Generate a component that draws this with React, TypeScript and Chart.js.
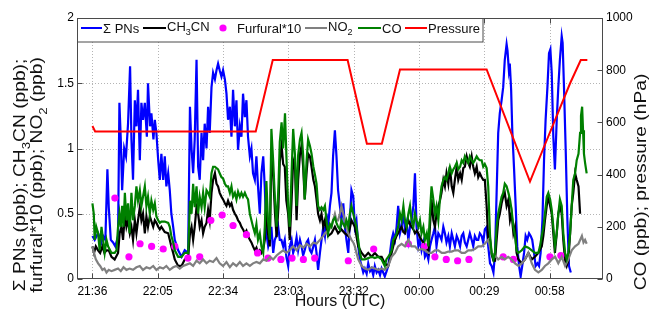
import React, { useEffect, useRef } from "react";
import { Chart, registerables } from "chart.js";
Chart.register(...registerables);

const FONT = '"Liberation Sans", Arial, Helvetica, sans-serif';
const W = 649;
const H = 311;

// x axis: minutes after 21:36 UTC
const X_MIN = -6.8;
const X_MAX = 225.1;
const X_TICKS = [0, 28.8, 57.6, 86.4, 115.2, 144, 172.8, 201.6];
const X_TICK_LABELS = ["21:36", "22:05", "22:34", "23:03", "23:32", "00:00", "00:29", "00:58"];
const Y_GRID = [0.5, 1, 1.5];

// Σ PNs (ppb)
const pnsT = [
  0,1,2.5,4,4.7,5.7,6.6,7.2,8.1,9.1,
  10.1,11.3,11.9,12.5,13.1,14,14.8,15.7,16.6,17.2,
  17.9,18.7,19.4,20.1,20.9,21.6,22.3,23.1,24,24.5,
  25.4,26,26.9,27.5,28.2,29,29.7,30.4,31.2,31.9,
  32.6,33.4,34.1,34.8,35.6,36.3,37.8,39.3,40.7,42.2,
  43,43.7,44.4,45.1,45.9,46.6,47.3,48.1,48.8,49.5,
  50.3,51,51.7,52.5,53.2,54,54.7,55.4,56.1,56.9,
  57.6,58.4,59.1,59.8,60.6,61.3,62,62.8,63.5,64.2,
  65,65.7,66.4,67.2,67.9,68.6,69.4,70.1,70.8,71.6,
  72.3,73,73.8,74.5,75.3,76,76.7,77.5,78.2,78.9,
  79.7,80.4,81.1,81.9,82.6,83.3,84.1,84.8,
  85.5,86.3,87,87.8,88.5,89.3,90,90.7,91.5,92.2,
  92.9,93.6,94.4,95.1,95.9,96.6,97.4,98.1,98.8,99.5,
  100.3,101,101.8,102.5,103.2,103.9,104.7,105.4,106.1,106.9,
  107.6,108.3,109.1,109.8,110.6,111.3,112,112.8,113.5,114.2,
  115,115.7,116.4,117.2,117.9,118.7,119.4,120.1,120.9,121.6,
  122.4,123.1,123.8,124.5,125.3,126,126.8,127.5,128.2,128.9,
  129.7,130.4,
  131.2,131.9,132.6,133.4,134.1,134.8,135.6,136.3,137.1,137.8,
  138.5,139.3,140,140.7,141.5,142.2,142.9,143.7,144.4,145.1,
  145.9,146.6,147.4,148.1,148.8,149.5,150.3,151,151.7,152.5,
  153.2,153.9,154.7,155.4,156.1,156.9,157.6,158.4,159.1,159.8,
  160.6,161.3,162.1,162.8,163.5,164.2,165,165.7,166.4,167.2,
  167.9,168.6,169.4,170.1,170.8,171.6,172.3,173,173.8,
  174.5,175.3,176,176.8,177.5,178.2,178.9,179.6,180.4,181.1,
  181.8,182.6,183,183.6,184,184.6,185.1,185.9,186.6,187.3,
  188.1,188.8,189.5,190.3,191,191.7,192.5,193.2,193.9,194.7,
  195.4,196.2,196.9,197.6,198.4,199.1,199.8,200.6,201.3,201.9,
  202.5,203.2,203.9,204.7,205.4,206.1,206.9,207.3,207.9,208.7,
  209.4,210.1,210.9,
];
const pnsV = [
  0.33,0.3,0.35,0.28,0.33,0.3,0.84,0.55,0.3,0.28,
  0.25,0.33,1.35,1.07,0.68,1.0,0.94,1.19,1.63,1.07,
  0.76,1.37,1.17,1.45,0.91,1.35,1.22,1.35,1.09,1.5,
  1.17,1.27,1.07,1.22,1.12,0.91,0.76,0.96,0.76,0.94,
  0.71,0.81,0.68,0.5,0.4,0.3,0.22,0.17,0.22,0.2,
  1.32,1.0,0.81,1.07,1.68,0.86,0.76,1.12,0.91,1.19,
  1.0,1.32,1.12,1.47,1.58,1.53,1.6,1.65,1.6,1.55,
  1.6,1.53,1.42,1.22,1.32,1.09,1.45,1.17,1.37,0.99,
  1.17,1.09,1.42,1.24,1.37,1.09,0.94,1.0,0.81,0.76,
  0.94,0.71,0.5,0.81,0.94,0.7,0.35,0.25,0.3,0.4,
  0.2,0.3,0.33,0.4,0.3,0.3,0.25,0.3,
  0.17,0.1,0.25,0.3,0.2,0.25,0.32,0.22,0.3,0.25,
  0.18,0.22,0.28,0.3,0.22,0.2,0.25,0.3,0.2,0.07,
  0.2,0.3,0.4,0.33,0.5,0.4,0.56,0.66,0.94,1.14,
  0.94,0.68,0.56,0.45,0.58,0.4,0.3,0.2,0.45,0.68,
  0.63,0.4,0.45,0.25,0.15,0.1,0.05,0.08,0.04,0.12,
  0.06,0.08,0.03,0.1,0.05,0.07,0.03,0.08,0.05,0.02,
  0.06,0.1,
  0.2,0.3,0.35,0.3,0.4,0.56,0.35,0.4,0.5,0.38,
  0.43,0.3,0.4,0.45,0.56,0.81,0.4,0.25,0.3,0.22,
  0.28,0.17,0.2,0.15,0.25,0.3,0.35,0.4,0.25,0.35,
  0.33,0.3,0.4,0.35,0.28,0.33,0.25,0.35,0.3,0.25,
  0.33,0.3,0.25,0.33,0.35,0.28,0.25,0.3,0.35,0.3,
  0.25,0.33,0.3,0.3,0.35,0.33,0.28,0.38,0.4,
  0.25,0.12,0.1,0.05,0.2,0.66,1.12,1.27,1.37,1.47,
  1.68,1.8,1.75,1.6,1.65,1.45,1.14,0.84,0.56,0.25,
  0.1,0.02,0.1,0.2,0.33,0.3,0.35,0.33,0.3,0.2,
  0.1,0.12,0.1,0.2,0.45,0.91,1.22,1.47,1.73,1.76,
  1.58,1.09,0.84,1.22,1.47,1.68,1.86,1.81,1.47,0.96,
  0.45,0.1,0.05,
];

// CH3CN (ppb)
const ch3cnT = [
  0,0.7,1.5,2.5,3.4,4.4,5.3,6.2,7.2,8.4,
  9.8,11.3,12,12.8,13.5,14.3,15,15.7,16.5,17.2,
  17.9,18.7,19.4,20.1,20.9,21.6,22.3,23.1,23.8,24.5,
  25.3,26.8,27.5,28.2,29,29.7,30.4,31.9,33.4,34.1,
  34.8,35.6,36.3,37.8,39.3,40.7,42.2,
  43,43.7,44.4,45.1,45.9,46.6,47.3,48.1,48.8,49.5,
  50.3,51,51.7,52.5,53.2,54,54.7,55.4,56.1,56.9,
  57.6,58.4,59.1,59.8,60.6,61.3,62,62.8,63.5,64.2,
  65,65.7,66.4,67.2,67.9,68.6,69.4,70.1,70.8,71.6,
  72.3,73,73.8,74.5,75.3,76,76.7,77.4,78.2,78.9,
  79.7,80.5,81.2,82,82.6,83.4,84.1,84.8,
  85.5,86.3,87,87.8,88.5,89.3,90,90.7,91.5,92.2,
  92.9,93.6,94.4,95.1,95.9,96.6,97.4,98.1,98.8,99.5,
  100.3,101,101.8,102.5,103.9,105.4,106.9,108.3,109.8,111.3,
  112.8,114.2,115.7,117.2,118.7,120.1,121.6,123.1,124.5,126,
  127.5,128.9,130.4,
  131.2,131.9,132.6,133.4,134.1,134.8,135.6,136.3,137.1,137.8,
  138.5,139.3,140,140.7,141.5,142.2,143,143.7,144.4,145.1,
  145.9,146.6,147.4,148.1,148.8,149.5,150.3,151,151.7,152.5,
  153.2,153.9,154.7,155.4,156.1,156.9,157.6,158.4,159.1,159.8,
  160.6,161.3,162.1,162.8,163.5,164.2,165,165.7,166.4,167.2,
  167.9,168.6,169.4,170.1,170.8,171.6,172.3,173,173.8,174.5,
  175.3,176,176.8,177.5,178.2,178.9,179.6,180.4,181.1,181.8,
  182.6,183.4,184.1,184.8,185.6,186.3,187,187.8,189.3,190.7,
  192.2,193.7,195.1,196.6,198.1,198.8,199.5,200.3,201,201.8,
  202.5,203.2,203.9,204.7,205.4,206.1,206.9,207.6,208.4,209.1,
  209.8,210.6,211.3,212,212.8,213.5,214.3,215,
];
const ch3cnV = [
  0.25,0.2,0.25,0.22,0.2,0.25,0.2,0.22,0.22,0.17,
  0.15,0.2,0.35,0.4,0.3,0.5,0.4,0.45,0.35,0.4,
  0.3,0.45,0.35,0.45,0.55,0.45,0.5,0.35,0.48,0.4,
  0.48,0.4,0.45,0.43,0.4,0.38,0.4,0.36,0.35,0.3,
  0.25,0.2,0.15,0.1,0.1,0.15,0.17,
  0.35,0.4,0.3,0.4,0.55,0.5,0.4,0.45,0.35,0.4,
  0.43,0.53,0.45,0.66,0.76,0.81,0.73,0.71,0.66,0.63,
  0.61,0.58,0.56,0.6,0.56,0.58,0.53,0.5,0.48,0.45,
  0.43,0.4,0.38,0.35,0.37,0.33,0.3,0.28,0.25,0.22,
  0.24,0.2,0.22,0.2,0.23,0.3,0.6,0.35,0.25,0.95,
  0.8,0.5,0.32,0.55,0.9,1.02,0.88,0.86,
  0.6,0.5,0.3,0.6,0.91,0.86,0.45,0.76,0.96,1.02,
  0.86,0.61,0.81,0.96,0.94,0.86,0.76,0.71,0.61,0.5,
  0.45,0.5,0.4,0.45,0.33,0.35,0.4,0.35,0.38,0.35,
  0.33,0.45,0.4,0.25,0.2,0.17,0.2,0.17,0.2,0.17,
  0.17,0.12,0.1,
  0.15,0.2,0.25,0.3,0.33,0.35,0.38,0.4,0.36,0.35,
  0.4,0.45,0.42,0.4,0.38,0.35,0.37,0.35,0.32,0.3,
  0.28,0.25,0.22,0.2,0.4,0.61,0.45,0.4,0.5,0.56,
  0.6,0.66,0.76,0.71,0.81,0.73,0.86,0.71,0.66,0.76,
  0.86,0.76,0.81,0.76,0.85,0.86,0.94,0.89,0.86,0.94,
  0.86,0.81,0.86,0.78,0.81,0.78,0.76,0.76,0.56,0.3,
  0.3,0.19,0.14,0.14,0.3,0.45,0.5,0.58,0.63,0.66,
  0.56,0.61,0.45,0.5,0.35,0.4,0.2,0.15,0.12,0.15,
  0.2,0.15,0.17,0.2,0.25,0.33,0.45,0.56,0.63,0.56,
  0.5,0.35,0.2,0.35,0.5,0.56,0.5,0.3,0.14,0.1,
  0.14,0.35,0.56,0.66,0.81,0.76,0.71,0.5,
];

// Furfural*10 (ppb)
const furfT = [
  9.9,16.1,21,26.1,31.2,36.3,42.1,47.3,52.2,57.2,
  62,67.9,72.8,77.4,83.1,88,93,98,112.8,124,
  139.3,146.3,151,156,161,166,181.1,185.6,201.7,206.5,
];
const furfV = [
  0.62,0.17,0.27,0.25,0.23,0.25,0.16,0.17,0.45,0.49,
  0.41,0.34,0.2,0.16,0.15,0.16,0.15,0.16,0.14,0.23,
  0.27,0.25,0.17,0.15,0.14,0.15,0.17,0.15,0.17,0.18,
];

// NO2 (ppb)
const no2T = [
  0,0.7,1.5,2.5,3.4,4.4,5.3,6.2,7.2,8.4,
  9.8,11.3,12.5,13.7,15,16.4,17.9,19.4,20.9,22.3,
  23.8,25.3,26.8,28.2,29.7,31.2,32.6,34.1,35.6,37,
  38.5,40,41.5,
  43,44.4,45.9,47.3,48.8,50.3,51.7,53.2,54.7,56.1,
  57.6,59.1,60.6,62,63.5,65,66.4,67.9,69.4,70.8,
  72.3,73.8,75.3,76.7,78.2,79.7,81.2,82.6,84.1,85.5,
  87,88.5,90,91.5,93,94.4,95.9,97.4,98.8,100.3,
  101.8,102.5,103.9,105.4,106.1,106.9,107.6,108.3,109.1,109.8,
  110.6,111.3,112,112.8,114.2,115,115.7,116.4,117.2,118.7,
  120.1,121.6,123.1,124.5,126,127.5,128.9,130.4,
  131.9,133.4,134.8,136.3,137.8,139.3,140.7,142.2,143.7,145.1,
  146.6,148.1,149.5,151,152.5,154,155.4,156.9,158.4,159.8,
  161.3,162.8,164.2,165.7,167.2,168.6,170.1,171.6,173,174.5,
  176,177.5,178.9,180.4,181.8,183.3,184.8,186.3,187.8,189.3,
  190.7,192.2,193.7,195.1,196.6,198.1,199.5,201,202.5,204,
  205.4,206.9,208.4,209.8,211.3,212.8,214.3,215.8,216.5,217.2,
  217.9,
];
const no2V = [
  0.25,0.2,0.15,0.12,0.1,0.07,0.08,0.05,0.07,0.06,
  0.07,0.08,0.06,0.09,0.07,0.08,0.07,0.09,0.1,0.07,
  0.09,0.08,0.1,0.07,0.09,0.08,0.1,0.07,0.09,0.1,
  0.08,0.1,0.11,
  0.12,0.1,0.14,0.12,0.15,0.12,0.14,0.13,0.16,0.12,
  0.1,0.13,0.09,0.12,0.1,0.13,0.1,0.12,0.1,0.12,
  0.13,0.12,0.15,0.14,0.17,0.15,0.18,0.2,0.22,0.2,
  0.22,0.25,0.22,0.26,0.24,0.27,0.25,0.28,0.27,0.3,
  0.33,0.35,0.37,0.4,0.45,0.5,0.45,0.45,0.5,0.56,
  0.5,0.45,0.4,0.35,0.3,0.28,0.25,0.2,0.15,0.1,
  0.08,0.07,0.09,0.08,0.07,0.08,0.07,0.1,
  0.17,0.2,0.25,0.27,0.25,0.3,0.25,0.25,0.22,0.23,
  0.22,0.2,0.2,0.22,0.22,0.2,0.2,0.21,0.21,0.22,
  0.22,0.2,0.2,0.22,0.22,0.23,0.25,0.25,0.27,0.3,
  0.2,0.18,0.15,0.17,0.15,0.17,0.15,0.12,0.1,0.12,
  0.15,0.2,0.12,0.07,0.05,0.07,0.1,0.12,0.15,0.17,
  0.12,0.17,0.1,0.15,0.22,0.25,0.27,0.33,0.28,0.3,
  0.27,
];

// CO (ppb), right axis
const coT = [
  0,0.6,1,1.7,2.5,3.2,4,4.7,5.4,6.2,
  6.9,8.4,9.8,10.6,11.3,11.9,12.5,13.1,13.7,14.3,
  15,15.7,16.4,17.2,17.9,18.7,19.4,20.1,20.9,21.6,
  22.3,23.1,23.8,24.5,25.3,26,26.8,27.5,28.2,29,
  29.7,30.4,31.9,33.4,34.1,34.8,35.6,36.3,37.8,39.3,
  40.7,42.2,
  43,43.7,44.4,45.1,45.9,46.6,47.3,48.1,48.8,49.5,
  50.3,51,51.7,52.5,53.2,54,54.7,55.4,56.1,56.9,
  57.6,58.4,59.1,59.8,60.6,61.3,62,62.8,63.5,64.2,
  65,65.7,66.4,67.2,67.9,68.6,69.4,
  70.1,70.8,71.6,72.3,73,73.8,74.5,75.3,76,76.7,
  77.4,78.2,78.9,79.7,80.5,81.2,82,82.6,83.4,84.1,
  84.9,85.6,86.3,87,87.8,88.5,89.3,90,90.7,91.5,
  92.2,92.9,93.6,94.4,95.1,95.9,96.6,97.4,98.1,98.8,
  99.5,100.3,101,101.8,102.5,103.2,103.9,104.7,105.4,106.1,
  106.9,107.6,108.3,109.1,109.8,110.6,111.3,112,112.8,113.5,
  114.2,115,115.7,116.4,117.2,117.9,118.7,120.1,121.6,123.1,
  124.5,126,127.5,128.9,129.6,130.4,
  131.2,131.9,132.6,133.4,134.1,134.8,135.6,136.3,137.1,137.8,
  138.5,139.3,140,140.7,141.5,142.2,142.9,143.7,144.4,145.1,
  145.9,146.6,147.4,148.1,148.8,149.5,150.3,151,151.7,152.5,
  153.2,153.9,154.7,155.4,156.1,156.9,157.6,158.4,159.1,159.8,
  160.6,161.3,162.1,162.8,163.5,164.2,165,165.7,166.4,167.2,
  167.9,168.6,169.4,170.1,170.8,171.6,172.3,173,173.8,174.5,
  175.3,
  176,176.8,177.5,178.2,178.9,179.6,180.4,181.1,181.8,182.6,
  183.4,184.1,184.8,185.6,186.3,187,187.8,189.3,190.7,192.2,
  193.7,195.1,196.6,197.3,198.1,198.8,199.5,200.3,201,201.8,
  202.5,203.2,203.9,204.7,205.4,206.1,206.9,207.6,208.4,209.1,
  209.8,210.6,211.3,212,212.8,213.5,214.3,215,215.4,215.9,
  216.3,216.7,217.2,217.9,
];
const coV = [
  290,250,150,200,175,110,200,150,100,150,
  125,100,100,110,200,250,200,280,200,330,
  225,290,175,330,225,280,355,300,340,280,
  315,355,280,315,250,300,265,290,240,225,
  215,220,220,215,200,165,140,110,85,85,
  100,100,
  300,250,365,275,355,250,315,275,330,275,
  340,330,315,405,430,430,425,420,405,390,
  385,365,355,355,330,355,315,330,305,335,
  315,330,315,330,315,305,250,
  225,200,175,210,150,175,125,100,200,375,
  225,150,575,450,300,200,350,525,600,500,
  635,450,275,200,405,575,475,280,475,535,
  560,475,305,450,535,510,480,430,400,365,
  280,265,275,265,280,225,175,210,200,225,
  235,215,200,190,225,210,200,225,200,250,
  280,250,225,200,150,100,75,75,80,85,
  80,85,75,50,75,85,
  95,110,150,160,175,200,250,225,280,225,
  200,250,280,225,200,250,225,200,225,175,
  200,150,175,125,250,355,305,250,280,225,
  305,355,380,390,380,405,430,405,420,430,
  445,420,430,455,445,470,455,445,470,455,
  445,455,470,460,455,455,430,440,425,355,
  165,
  100,75,100,200,250,280,315,330,365,355,
  330,305,265,200,165,110,100,110,125,120,
  110,100,100,125,165,200,250,315,330,305,
  265,200,125,175,250,305,280,175,100,75,
  100,175,280,380,405,455,480,560,625,660,
  570,480,445,405,
];

// Pressure (hPa), right axis
const presT = [0, 1.2, 72, 79.5, 112.5, 121, 127.6, 135.6, 173.8, 192.9, 198.8, 210.6, 215.3, 218.2];
const presV = [586, 565, 565, 839, 839, 518, 518, 803, 803, 373, 500, 750, 839, 839];

type Seg = [string, boolean];
const LEFT_TITLE_1: Seg[] = [["\u03A3 PNs (ppb); CH", false], ["3", true], ["CN (ppb);", false]];
const LEFT_TITLE_2: Seg[] = [["furfural*10 (ppb); NO", false], ["2", true], [" (ppb)", false]];
const RIGHT_TITLE: Seg[] = [["CO (ppb); pressure (hPa)", false]];
const X_TITLE = "Hours (UTC)";

const LEGEND = [
  { kind: "line", color: "#0000ff", x0: 81, x1: 102, tx: 103, segs: [["\u03A3 PNs", false]] as Seg[] },
  { kind: "line", color: "#000000", x0: 143, x1: 166, tx: 167, segs: [["CH", false], ["3", true], ["CN", false]] as Seg[] },
  { kind: "dot", color: "#ff00ff", x0: 223, x1: 223, tx: 237, segs: [["Furfural*10", false]] as Seg[] },
  { kind: "line", color: "#808080", x0: 305, x1: 327, tx: 328, segs: [["NO", false], ["2", true]] as Seg[] },
  { kind: "line", color: "#008000", x0: 358, x1: 381, tx: 382, segs: [["CO", false]] as Seg[] },
  { kind: "line", color: "#ff0000", x0: 405, x1: 427, tx: 428, segs: [["Pressure", false]] as Seg[] },
];

function pts(t: number[], v: number[]) {
  return t.map((x, i) => ({ x, y: v[i] }));
}

function richWidth(ctx: CanvasRenderingContext2D, segs: Seg[], size: number, sub: number) {
  let w = 0;
  for (const [s, isSub] of segs) {
    ctx.font = `${isSub ? sub : size}px ${FONT}`;
    w += ctx.measureText(s).width;
  }
  return w;
}

function drawRich(ctx: CanvasRenderingContext2D, segs: Seg[], x: number, y: number, size: number, center: boolean) {
  const sub = Math.round(size * 0.7);
  const hasSub = segs.some((s) => s[1]);
  const w = richWidth(ctx, segs, size, sub);
  let cx = center ? x - w / 2 : x;
  const base = hasSub ? y - 2 : y;
  ctx.textAlign = "left";
  ctx.textBaseline = "alphabetic";
  for (const [s, isSub] of segs) {
    ctx.font = `${isSub ? sub : size}px ${FONT}`;
    ctx.fillText(s, cx, isSub ? base + size * 0.33 : base);
    cx += ctx.measureText(s).width;
  }
}

// rotated axis title, stretched along its length as in the source figure
function drawVertical(ctx: CanvasRenderingContext2D, segs: Seg[], x: number, y: number, size: number, stretch: number) {
  ctx.save();
  ctx.translate(x, y);
  ctx.rotate(-Math.PI / 2);
  ctx.scale(stretch, 1);
  drawRich(ctx, segs, 0, 0, size, true);
  ctx.restore();
}

const decor = {
  id: "decor",
  beforeDatasetsDraw(chart: any) {
    const { ctx, chartArea: a, scales } = chart;
    ctx.save();
    ctx.strokeStyle = "#b4b4b4";
    ctx.lineWidth = 1;
    ctx.setLineDash([1, 2]);
    ctx.beginPath();
    for (const v of X_TICKS) {
      const px = Math.round(scales.x.getPixelForValue(v)) + 0.5;
      ctx.moveTo(px, a.top);
      ctx.lineTo(px, a.bottom);
    }
    for (const v of Y_GRID) {
      const py = Math.round(scales.y.getPixelForValue(v)) + 0.5;
      ctx.moveTo(a.left, py);
      ctx.lineTo(a.right, py);
    }
    ctx.stroke();
    ctx.restore();
  },
  afterDraw(chart: any) {
    const { ctx, chartArea: a, scales } = chart;
    ctx.save();
    ctx.strokeStyle = "#4a4a4a";
    ctx.lineWidth = 1;
    ctx.setLineDash([]);
    const L = Math.round(a.left) + 0.5, R = Math.round(a.right) - 0.5;
    const T = Math.round(a.top) + 0.5, B = Math.round(a.bottom) - 0.5;
    ctx.strokeRect(L, T, R - L, B - T);
    ctx.beginPath();
    for (const t of scales.y.ticks) {
      const py = Math.round(scales.y.getPixelForValue(t.value)) + 0.5;
      ctx.moveTo(L, py); ctx.lineTo(L + 5, py);
    }
    for (const t of scales.y2.ticks) {
      const py = Math.round(scales.y2.getPixelForValue(t.value)) + 0.5;
      ctx.moveTo(R, py); ctx.lineTo(R - 5, py);
    }
    for (const v of X_TICKS) {
      const px = Math.round(scales.x.getPixelForValue(v)) + 0.5;
      ctx.moveTo(px, B); ctx.lineTo(px, B - 5);
      ctx.moveTo(px, T); ctx.lineTo(px, T + 5);
    }
    ctx.stroke();

    // legend
    ctx.fillStyle = "#ffffff";
    ctx.fillRect(L, T, 483 - L, 42 - T);
    ctx.strokeStyle = "#4a4a4a";
    ctx.strokeRect(L, T, 483 - L, 42 - T);
    for (const it of LEGEND) {
      if (it.kind === "line") {
        ctx.strokeStyle = it.color;
        ctx.lineWidth = 2;
        ctx.beginPath();
        ctx.moveTo(it.x0, 28);
        ctx.lineTo(it.x1, 28);
        ctx.stroke();
      } else {
        ctx.fillStyle = it.color;
        ctx.beginPath();
        ctx.arc(it.x0, 28, 3.6, 0, Math.PI * 2);
        ctx.fill();
      }
      ctx.fillStyle = "#111111";
      drawRich(ctx, it.segs, it.tx, 33, 13, false);
    }

    // axis titles
    ctx.fillStyle = "#111111";
    drawVertical(ctx, LEFT_TITLE_1, 27, 175, 16, 1.2);
    drawVertical(ctx, LEFT_TITLE_2, 43.5, 175, 16, 1.2);
    drawVertical(ctx, RIGHT_TITLE, 646, 182, 16, 1.2);
    ctx.font = `16px ${FONT}`;
    ctx.textAlign = "center";
    ctx.textBaseline = "alphabetic";
    ctx.fillText(X_TITLE, (a.left + a.right) / 2, 306);
    ctx.restore();
  },
};

export default function App() {
  const ref = useRef<HTMLCanvasElement>(null);
  useEffect(() => {
    const canvas = ref.current!;
    const tickFont = { family: FONT, size: 12 };
    const line = (label: string, t: number[], v: number[], color: string, axis: string, width = 2.2) => ({
      label,
      data: pts(t, v),
      yAxisID: axis,
      borderColor: color,
      backgroundColor: color,
      borderWidth: width,
      pointRadius: 0,
      tension: 0,
      fill: false,
    });
    const chart = new Chart(canvas, {
      type: "line",
      data: {
        datasets: [
          line("Pressure", presT, presV, "#ff0000", "y2", 2),
          line("CO", coT, coV, "#008000", "y2"),
          line("NO2", no2T, no2V, "#808080", "y"),
          {
            label: "Furfural*10",
            data: pts(furfT, furfV),
            yAxisID: "y",
            showLine: false,
            pointRadius: 3.6,
            pointBackgroundColor: "#ff00ff",
            pointBorderWidth: 0,
            borderColor: "#ff00ff",
          } as any,
          line("CH3CN", ch3cnT, ch3cnV, "#000000", "y"),
          line("PNs", pnsT, pnsV, "#0000ff", "y"),
        ],
      },
      options: {
        responsive: false,
        animation: false,
        devicePixelRatio: 1,
        layout: { padding: { top: 18, left: 0, right: 0, bottom: 0 } },
        plugins: { legend: { display: false }, tooltip: { enabled: false }, title: { display: false } },
        scales: {
          x: {
            type: "linear",
            min: X_MIN,
            max: X_MAX,
            afterBuildTicks: (s: any) => {
              s.ticks = X_TICKS.map((v) => ({ value: v }));
            },
            afterFit: (s: any) => {
              s.height = 32;
            },
            ticks: {
              callback: (_v: any, i: number) => X_TICK_LABELS[i],
              autoSkip: false,
              maxRotation: 0,
              minRotation: 0,
              padding: 5,
              font: tickFont,
              color: "#000",
            },
            grid: { display: false, drawTicks: false },
            border: { display: false },
          },
          y: {
            type: "linear",
            position: "left",
            min: 0,
            max: 2,
            afterFit: (s: any) => {
              s.width = 77;
            },
            ticks: { stepSize: 0.5, padding: 3, font: tickFont, color: "#000", callback: (v: any) => String(v) },
            grid: { display: false, drawTicks: false },
            border: { display: false },
          },
          y2: {
            type: "linear",
            position: "right",
            min: 0,
            max: 1000,
            afterFit: (s: any) => {
              s.width = 46;
            },
            ticks: { stepSize: 200, padding: 3, font: tickFont, color: "#000", callback: (v: any) => String(v) },
            grid: { display: false, drawTicks: false },
            border: { display: false },
          },
        },
      },
      plugins: [decor],
    } as any);
    return () => chart.destroy();
  }, []);
  return (
    <div style={{ position: "absolute", left: 0, top: 0, width: W, height: H, background: "#fff" }}>
      <canvas ref={ref} width={W} height={H} style={{ display: "block", width: W, height: H }} />
    </div>
  );
}
